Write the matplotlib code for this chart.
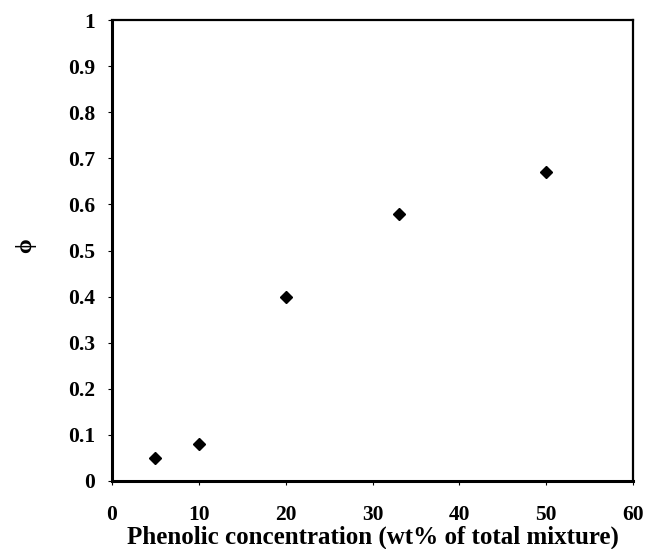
import matplotlib
matplotlib.use('Agg')
import matplotlib.pyplot as plt

# data
conc = [5, 10, 20, 33, 50]
phi = [0.05, 0.08, 0.40, 0.58, 0.67]
xticks = [0, 10, 20, 30, 40, 50, 60]
yticks = [0, 0.1, 0.2, 0.3, 0.4, 0.5, 0.6, 0.7, 0.8, 0.9, 1]
yticklabels = ['0', '0.1', '0.2', '0.3', '0.4', '0.5', '0.6', '0.7', '0.8', '0.9', '1']

plt.rcParams['font.family'] = ['Liberation Serif', 'DejaVu Serif']
plt.rcParams['font.weight'] = 'bold'

fig = plt.figure(figsize=(6.45, 5.49), dpi=100)
ax = fig.add_axes([112/645, 1-481/549, (633-112)/645, (481-20)/549])

ax.plot(conc, phi, linestyle='none', marker='D', color='black', markersize=6)

ax.set_xlim(0, 60)
ax.set_ylim(0, 1)
ax.set_xticks(xticks)
ax.set_yticks(yticks)
ax.set_yticklabels(yticklabels)

for s in ['left', 'bottom']:
  ax.spines[s].set_linewidth(2.2)
for s in ['top', 'right']:
  ax.spines[s].set_linewidth(1.6)

ax.tick_params(axis='x', direction='out', length=3, width=0.8, pad=14, labelsize=15.5)
ax.tick_params(axis='y', direction='out', length=3, width=0.8, pad=9, labelsize=15.5)
for lab in ax.get_xticklabels() + ax.get_yticklabels():
  lab.set_fontweight('bold')

ax.set_xlabel('Phenolic concentration (wt% of total mixture)', fontsize=18, fontweight='bold', labelpad=1)
ax.set_ylabel('\u03d5', fontsize=17, fontweight='bold')
ax.yaxis.set_label_coords(-0.146, 0.51)

plt.savefig('out.png', dpi=100)
plt.close()
